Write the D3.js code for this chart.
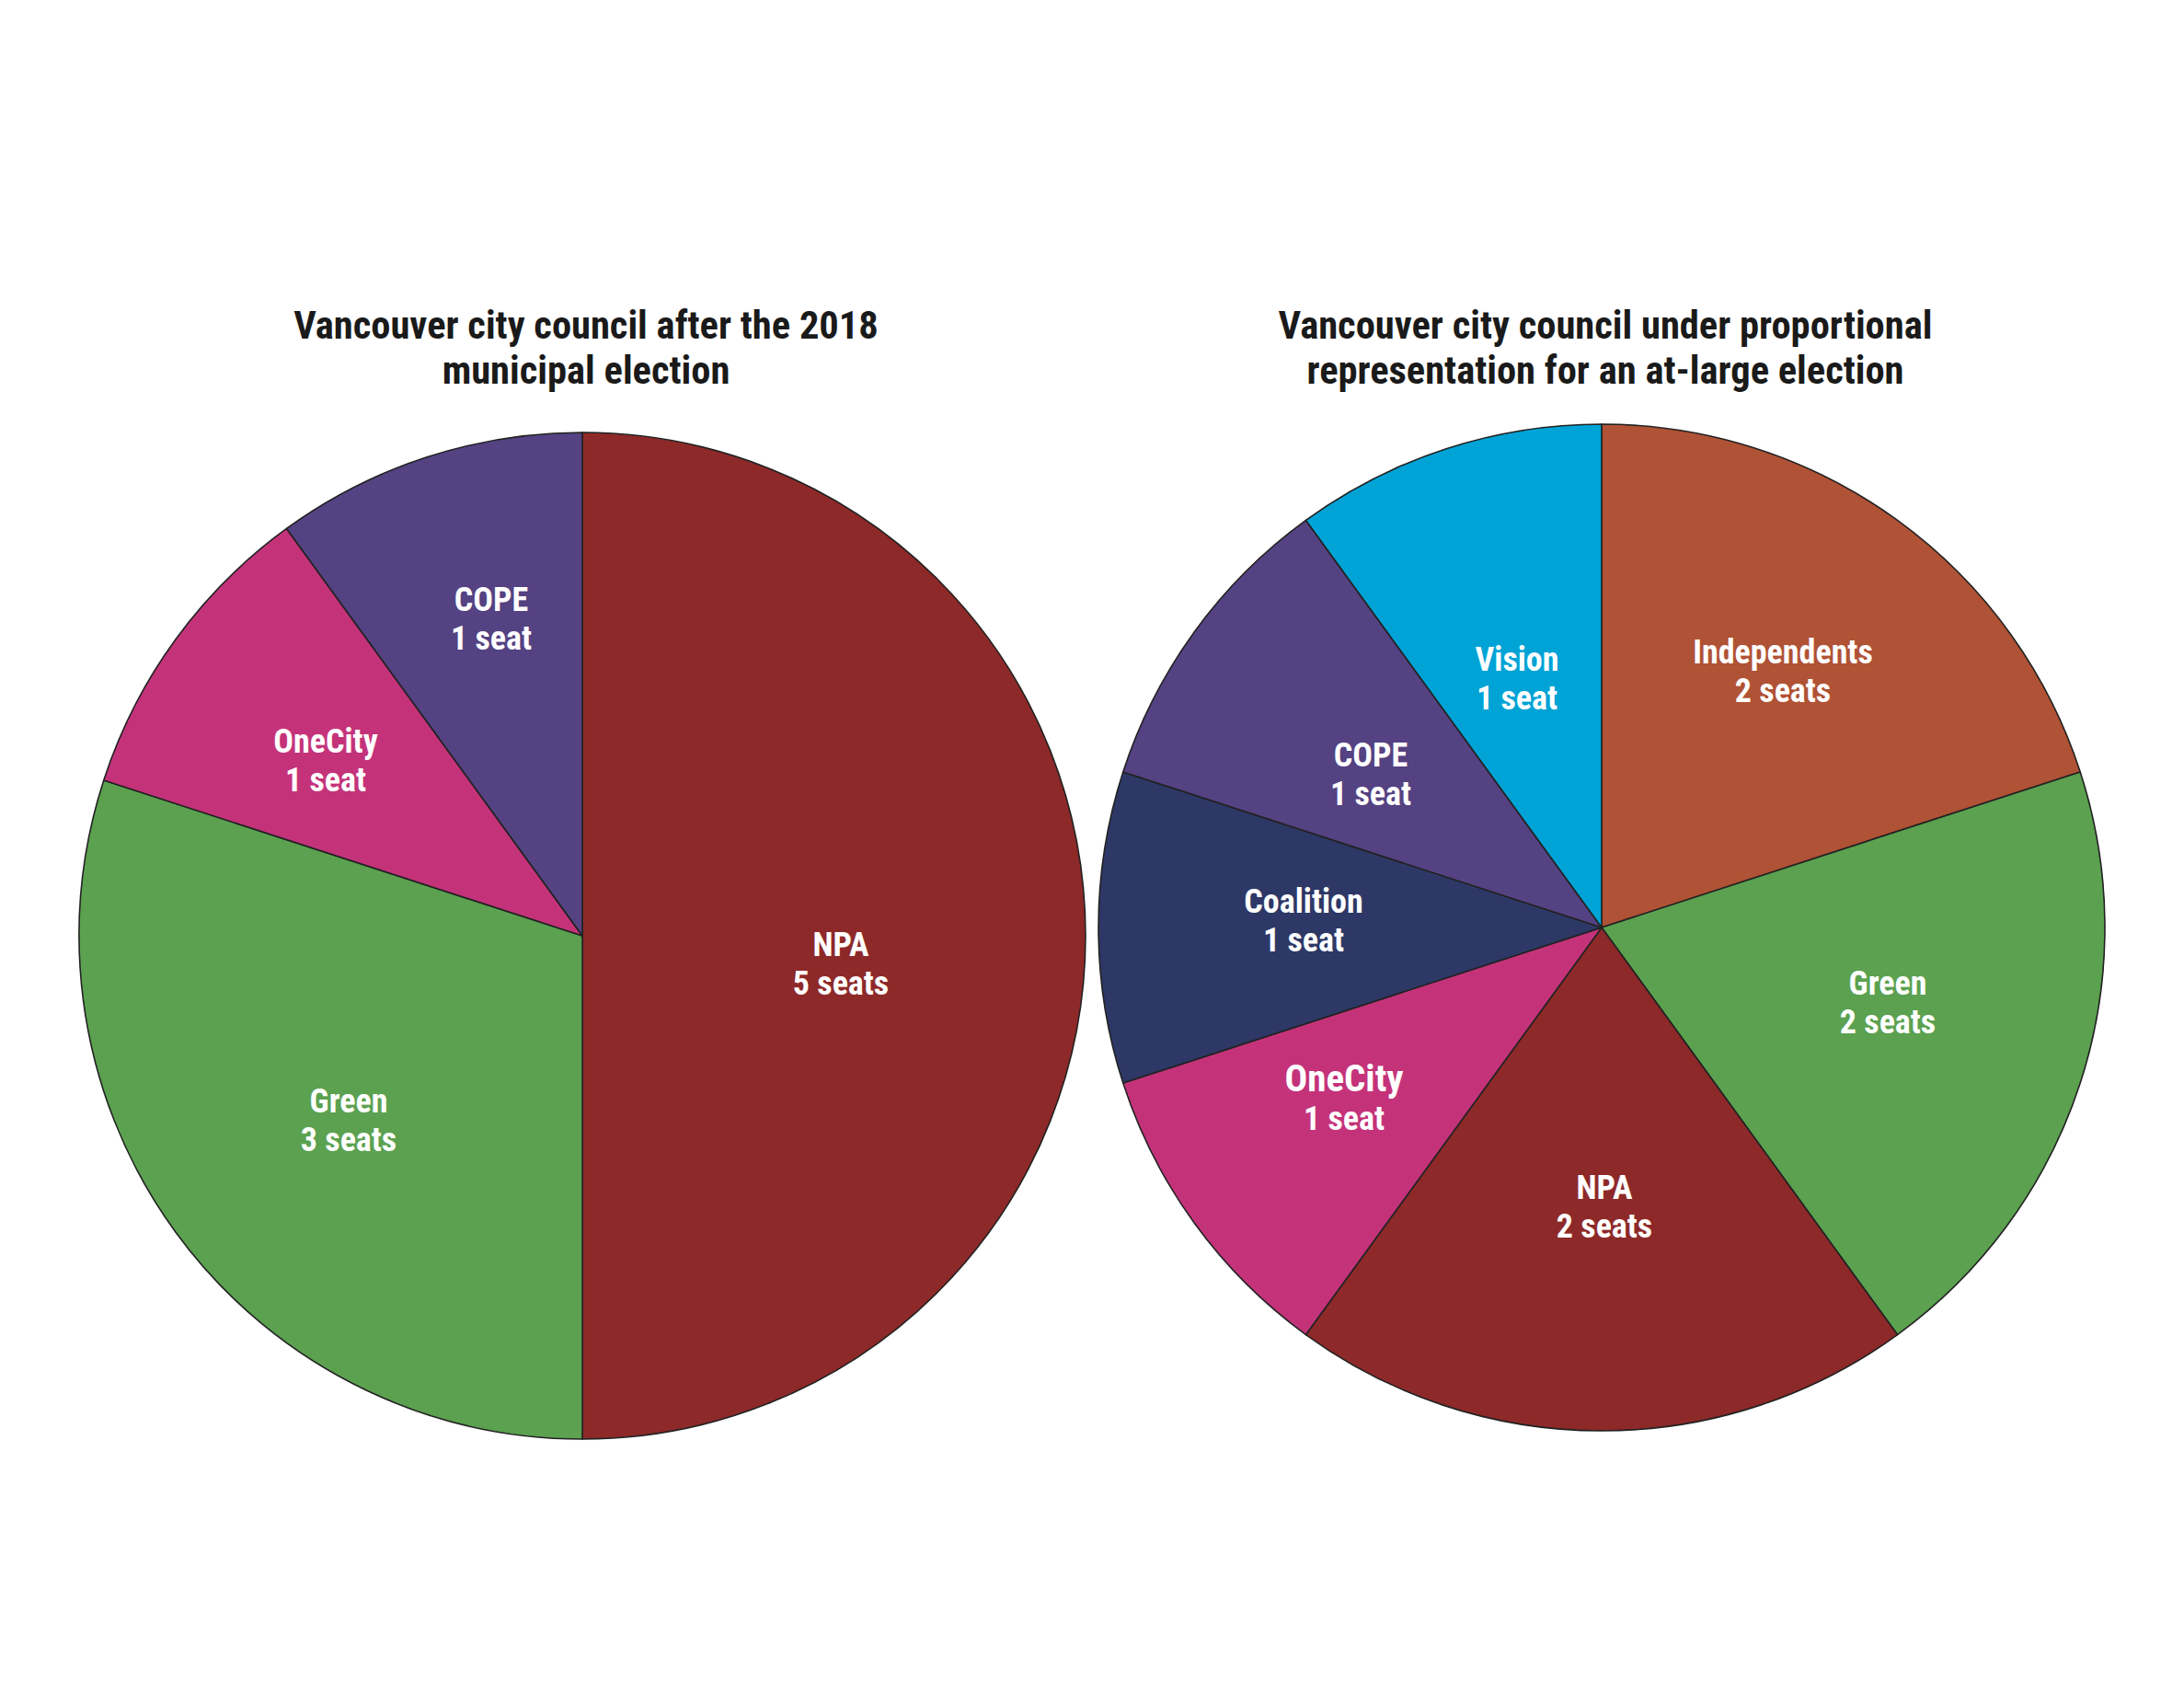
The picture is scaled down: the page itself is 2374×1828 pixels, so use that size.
<!DOCTYPE html>
<html>
<head>
<meta charset="utf-8">
<script src="https://cdn.jsdelivr.net/npm/d3@7"></script>
<style>
	body { margin: 0; background: #fff; }
	svg text { font-family: "Roboto Condensed", "Liberation Sans Narrow", "DejaVu Sans Condensed", sans-serif; font-weight: 700; }
</style>
</head>
<body>
<svg width="2374" height="1828"></svg>
<script>
// 2018 result
var leftParties = ["NPA", "Green", "OneCity", "COPE"];
var leftSeats = [5, 3, 1, 1];
var leftTitle = ["Vancouver city council after the 2018", "municipal election"];

// proportional representation
var rightParties = ["Independents", "Green", "NPA", "OneCity", "Coalition", "COPE", "Vision"];
var rightSeats = [2, 2, 2, 1, 1, 1, 1];
var rightTitle = ["Vancouver city council under proportional", "representation for an at-large election"];

var partyColors = {
	"NPA": "#8e2929",
	"Green": "#5ba150",
	"OneCity": "#c4337a",
	"COPE": "#544282",
	"Independents": "#b05235",
	"Vision": "#00a3d6",
	"Coalition": "#2e3866"
};

// label spots relative to pie centre, hand placed like the original
var leftLabelPos = [[281, 30], [-254, 200], [-279, -191], [-99, -345]];
var rightLabelPos = [[197, -279], [311, 81], [3, 303], [-280, 186], [-324, -8], [-251, -167], [-92, -271]];

function seatText(n) {
	return n + (n === 1 ? " seat" : " seats");
}

function drawPie(cx, cy, radius, parties, seats, title, labelPos, bigLabel) {
	var svg = d3.select("svg");
	var g = svg.append("g").attr("transform", "translate(" + cx + "," + cy + ")");

	var data = parties.map(function (p, i) { return { party: p, seats: seats[i] }; });
	var pie = d3.pie().sort(null).value(function (d) { return d.seats; });
	var arc = d3.arc().innerRadius(0).outerRadius(radius);
	var arcs = pie(data);

	g.selectAll("path.slice")
		.data(arcs)
		.enter()
		.append("path")
		.attr("class", "slice")
		.attr("d", arc)
		.attr("fill", function (d) { return partyColors[d.data.party]; })
		.attr("stroke", "#222")
		.attr("stroke-width", 1.6)
		.attr("stroke-linejoin", "round");

	var labels = g.selectAll("text.lbl")
		.data(arcs)
		.enter()
		.append("text")
		.attr("class", "lbl")
		.attr("text-anchor", "middle")
		.attr("fill", "#fff")
		.attr("font-size", 36)
		.attr("transform", function (d, i) {
			return "translate(" + labelPos[i][0] + "," + labelPos[i][1] + ")";
		});

	labels.append("tspan")
		.attr("x", 0)
		.attr("y", -8)
		.attr("font-size", function (d) { return d.data.party === bigLabel ? 41 : 36; })
		.text(function (d) { return d.data.party; });

	labels.append("tspan")
		.attr("x", 0)
		.attr("y", 34)
		.text(function (d) { return seatText(d.data.seats); });

	// title
	svg.append("text")
		.attr("text-anchor", "middle")
		.attr("fill", "#1a1a1a")
		.attr("font-size", 42.5)
		.selectAll("tspan")
		.data(title)
		.enter()
		.append("tspan")
		.attr("x", cx + 4)
		.attr("y", function (d, i) { return 368 + i * 49; })
		.text(function (d) { return d; });
}

drawPie(633, 1017, 547, leftParties, leftSeats, leftTitle, leftLabelPos, null);
drawPie(1741, 1008, 547, rightParties, rightSeats, rightTitle, rightLabelPos, "OneCity");
</script>
</body>
</html>
